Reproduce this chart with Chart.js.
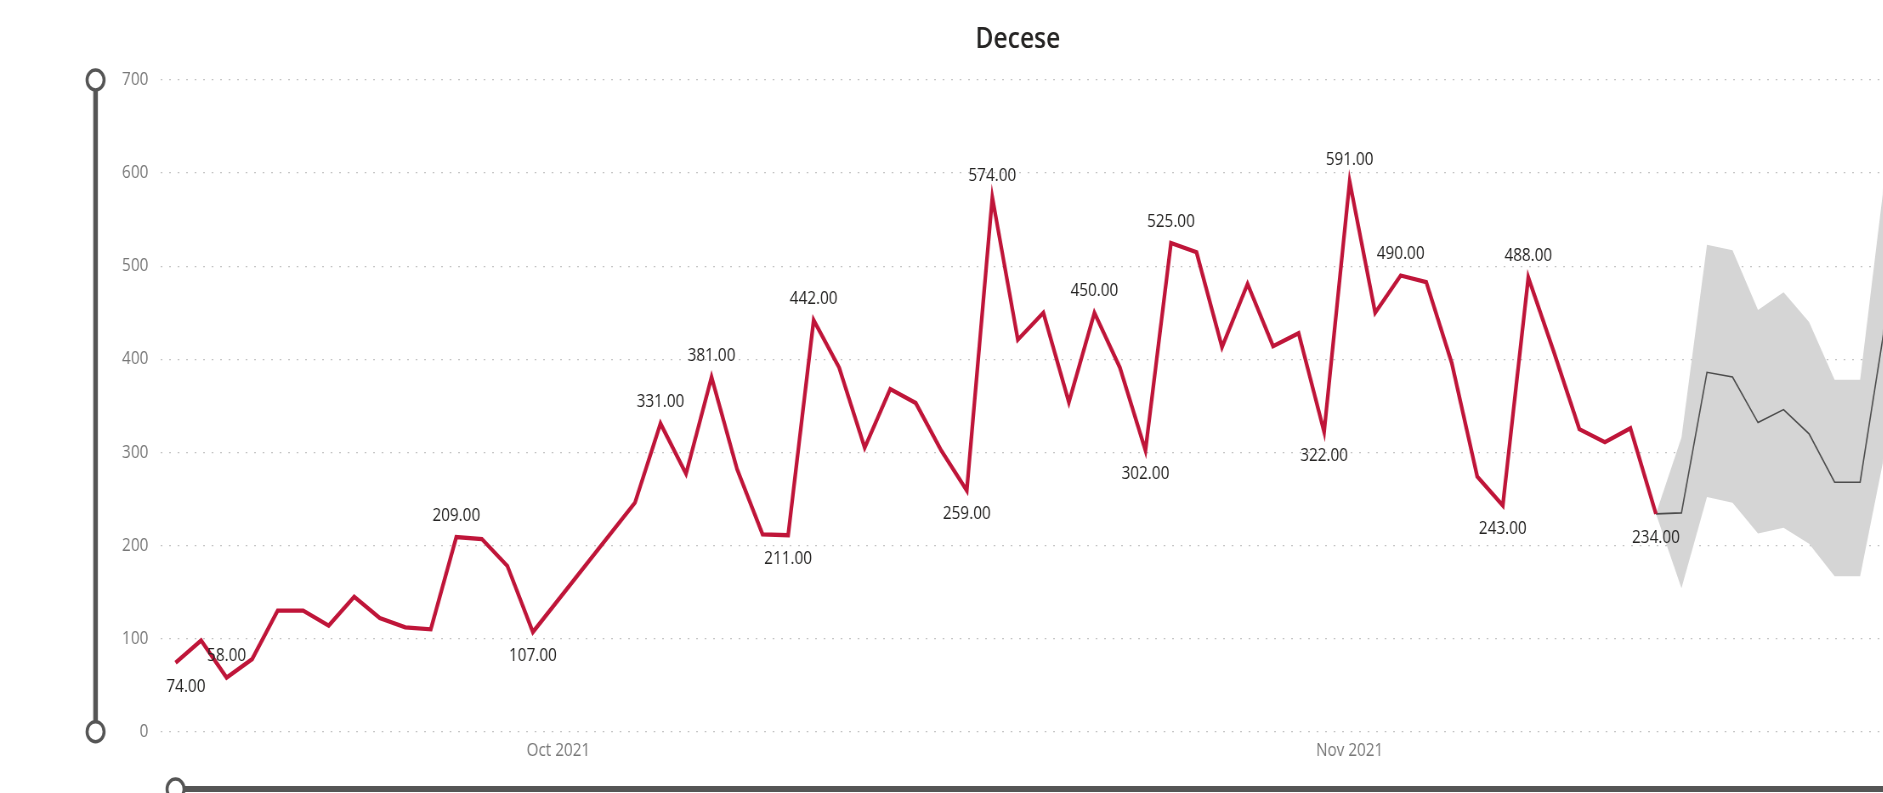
<!DOCTYPE html>
<html>
<head>
<meta charset="utf-8">
<script src="https://cdn.jsdelivr.net/npm/chart.js@4.4.1/dist/chart.umd.min.js"></script>
<style>
  html, body { margin: 0; padding: 0; overflow: hidden; background: #ffffff; width: 1883px; height: 793px; }
  #wrap { position: absolute; left: 0; top: 0; width: 2395px; height: 793px; transform: scaleX(0.85); transform-origin: 0 0; }
</style>
</head>
<body>
<div id="wrap"><canvas id="chart"></canvas></div>
<script>
// ---------------- data ----------------
const TITLE = 'Decese';

const dates = [
  '2021-09-16','2021-09-17','2021-09-18','2021-09-19','2021-09-20','2021-09-21','2021-09-22','2021-09-23',
  '2021-09-24','2021-09-25','2021-09-26','2021-09-27','2021-09-28','2021-09-29','2021-09-30',
  '2021-10-01','2021-10-02','2021-10-03','2021-10-04','2021-10-05','2021-10-06','2021-10-07','2021-10-08',
  '2021-10-09','2021-10-10','2021-10-11','2021-10-12','2021-10-13','2021-10-14','2021-10-15','2021-10-16',
  '2021-10-17','2021-10-18','2021-10-19','2021-10-20','2021-10-21','2021-10-22','2021-10-23','2021-10-24',
  '2021-10-25','2021-10-26','2021-10-27','2021-10-28','2021-10-29','2021-10-30','2021-10-31',
  '2021-11-01','2021-11-02','2021-11-03','2021-11-04','2021-11-05','2021-11-06','2021-11-07','2021-11-08',
  '2021-11-09','2021-11-10','2021-11-11','2021-11-12','2021-11-13','2021-11-14','2021-11-15','2021-11-16',
  '2021-11-17','2021-11-18','2021-11-19','2021-11-20','2021-11-21','2021-11-22'
];

// actual deaths (Sep 16 .. Nov 13), null = no report
const actual = [
  74, 98, 58, 78, 130, 130, 114, 145, 122, 112, 110, 209, 207, 178, 107,
  null, null, null, 246, 331, 277, 381, 282, 212, 211, 442, 391, 305, 368, 353, 302,
  259, 574, 421, 450, 354, 450, 391, 302, 525, 515, 413, 481, 414, 428, 322,
  591, 450, 490, 483, 396, 274, 243, 488, 408, 325, 311, 326, 234
];

// forecast (starts at last actual day)
const forecastStart = '2021-11-13';
const forecast      = [234, 235, 386, 381, 332, 346, 320, 268, 268, 442];
const forecastUpper = [234, 316, 523, 517, 453, 472, 440, 378, 378, 603];
const forecastLower = [234, 154, 252, 246, 213, 219, 202, 167, 167, 304];

// data labels shown on the actual series
const labelAbove = ['2021-09-18','2021-09-27','2021-10-05','2021-10-07','2021-10-11','2021-10-18',
                    '2021-10-22','2021-10-25','2021-11-01','2021-11-03','2021-11-08'];
const labelBelow = ['2021-09-16','2021-09-30','2021-10-10','2021-10-17','2021-10-24','2021-10-31',
                    '2021-11-07','2021-11-13'];

// axis ticks
const xTickDates  = ['2021-10-01', '2021-11-01'];
const xTickLabels = ['Oct 2021', 'Nov 2021'];
const yTicks = [0, 100, 200, 300, 400, 500, 600, 700];

// ---------------- build ----------------
const RED = '#BF1539';
const FONT = "'Open Sans', 'DejaVu Sans', sans-serif";
Chart.defaults.font.family = FONT;

const actualPts = actual.map((v, i) => ({ x: i, y: v }));
const f0 = dates.indexOf(forecastStart);
const fcPts  = forecast.map((v, k) => ({ x: f0 + k, y: v }));
const upPts  = forecastUpper.map((v, k) => ({ x: f0 + k, y: v }));
const lowPts = forecastLower.map((v, k) => ({ x: f0 + k, y: v }));

const labelPlugin = {
  id: 'pointLabels',
  afterDatasetsDraw(chart) {
    const { ctx, chartArea } = chart;
    const meta = chart.getDatasetMeta(0);
    ctx.save();
    ctx.font = "400 18px " + FONT;
    ctx.fillStyle = '#252423';
    ctx.textAlign = 'center';
    ctx.textBaseline = 'middle';
    const draw = (d, dir) => {
      const i = dates.indexOf(d);
      const el = meta.data[i];
      if (!el || actual[i] == null) return;
      const txt = actual[i].toFixed(2);
      const w = ctx.measureText(txt).width;
      const x = Math.max(chartArea.left + w / 2 + 7, Math.min(chartArea.right - w / 2, el.x));
      const y = dir > 0 ? el.y + 23.7 : el.y - 21.5;
      ctx.fillText(txt, x, y);
    };
    labelAbove.forEach(d => draw(d, -1));
    labelBelow.forEach(d => draw(d, 1));
    ctx.restore();
  }
};

const sliderPlugin = {
  id: 'sliders',
  afterDraw(chart) {
    const { ctx, scales } = chart;
    const yTop = scales.y.getPixelForValue(scales.y.max);
    const yBot = scales.y.getPixelForValue(scales.y.min);
    const vx = 112.4;
    const circle = (x, y) => {
      ctx.beginPath();
      ctx.arc(x, y, 10, 0, Math.PI * 2);
      ctx.fillStyle = '#ffffff';
      ctx.fill();
      ctx.lineWidth = 3.5;
      ctx.strokeStyle = '#555555';
      ctx.stroke();
    };
    ctx.save();
    ctx.strokeStyle = '#555555';
    ctx.lineWidth = 5.5;
    ctx.beginPath(); ctx.moveTo(vx, yTop); ctx.lineTo(vx, yBot); ctx.stroke();
    circle(vx, yTop);
    circle(vx, yBot);
    const hx = scales.x.getPixelForValue(0);
    const hy = 789;
    ctx.strokeStyle = '#555555';
    ctx.lineWidth = 6;
    ctx.beginPath(); ctx.moveTo(hx, hy); ctx.lineTo(chart.width, hy); ctx.stroke();
    circle(hx, hy);
    ctx.restore();
  }
};

new Chart(document.getElementById('chart'), {
  type: 'line',
  data: {
    datasets: [
      { label: 'Decese', data: actualPts, borderColor: RED, borderWidth: 4.3, pointRadius: 0,
        tension: 0, spanGaps: true, fill: false },
      { label: 'Prognoza', data: fcPts, borderColor: '#4d4d4d', borderWidth: 1.6, pointRadius: 0,
        tension: 0, fill: false },
      { label: 'Limita inferioara', data: lowPts, borderColor: 'rgba(0,0,0,0)', borderWidth: 0,
        pointRadius: 0, tension: 0, fill: false },
      { label: 'Limita superioara', data: upPts, borderColor: 'rgba(0,0,0,0)', borderWidth: 0,
        pointRadius: 0, tension: 0, backgroundColor: '#d5d5d5', fill: '-1' }
    ]
  },
  options: {
    responsive: true,
    maintainAspectRatio: false,
    animation: false,
    events: [],
    layout: { padding: { left: 0, right: 0, top: 0, bottom: 0 } },
    plugins: {
      legend: { display: false },
      tooltip: { enabled: false },
      filler: { drawTime: 'beforeDatasetsDraw' },
      title: {
        display: true, text: TITLE, color: '#252423',
        font: { family: FONT, size: 29, weight: '600' },
        padding: { top: 22.7, bottom: 22.5 }
      }
    },
    scales: {
      x: {
        type: 'linear',
        min: -0.59,
        max: 72.81,
        grid: { display: false, drawTicks: false },
        border: { display: false },
        afterBuildTicks(s) { s.ticks = xTickDates.map(d => ({ value: dates.indexOf(d) })); },
        afterFit(s) { s.height = 61.3; },
        ticks: {
          color: '#777777', font: { size: 18 }, padding: 8, maxRotation: 0, autoSkip: false,
          callback(v) {
            const k = xTickDates.findIndex(d => dates.indexOf(d) === v);
            return k >= 0 ? xTickLabels[k] : '';
          }
        }
      },
      y: {
        min: yTicks[0],
        max: yTicks[yTicks.length - 1],
        afterFit(s) { s.width = 188.8; },
        afterBuildTicks(s) { s.ticks = yTicks.map(v => ({ value: v })); },
        grid: { color: '#c4c4c4', lineWidth: 1.3, drawTicks: false },
        border: { display: false, dash: [2, 8] },
        ticks: { color: '#777777', font: { size: 18 }, padding: 14.3 }
      }
    }
  },
  plugins: [labelPlugin, sliderPlugin]
});
</script>
</body>
</html>
